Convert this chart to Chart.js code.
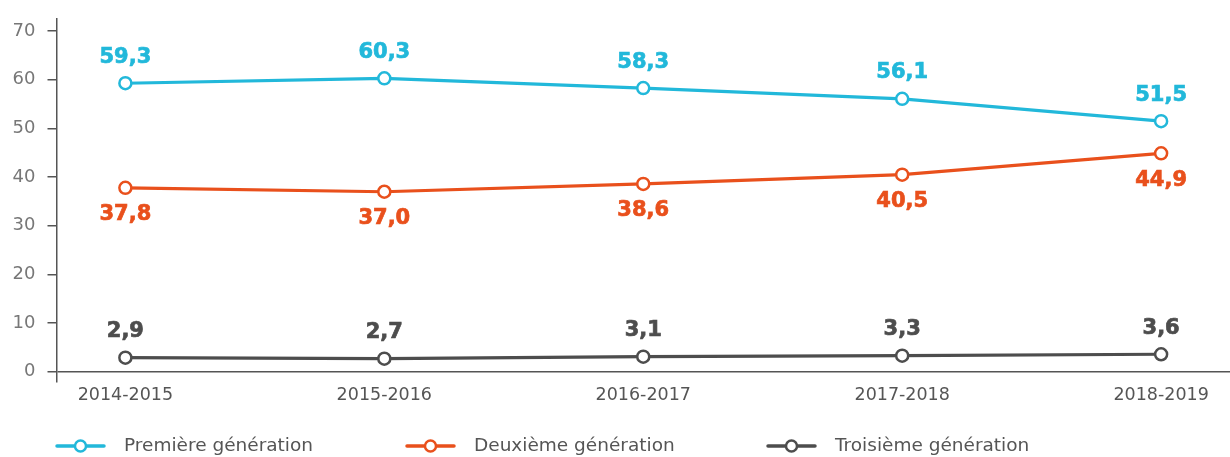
<!DOCTYPE html>
<html>
<head>
<meta charset="utf-8">
<script src="https://cdn.jsdelivr.net/npm/chart.js@4.4.1/dist/chart.umd.min.js"></script>
<style>
  html, body { margin: 0; padding: 0; background: #fff; overflow: hidden; }
  canvas { display: block; }
</style>
</head>
<body>
<canvas id="genChart" width="1230" height="457"></canvas>
<script>
// donnees
const categories = ['2014-2015', '2015-2016', '2016-2017', '2017-2018', '2018-2019'];
const premiere = [59.3, 60.3, 58.3, 56.1, 51.5];
const deuxieme = [37.8, 37.0, 38.6, 40.5, 44.9];
const troisieme = [2.9, 2.7, 3.1, 3.3, 3.6];
const yTicks = [0, 10, 20, 30, 40, 50, 60, 70];
const seriesNames = ['Première génération', 'Deuxième génération', 'Troisième génération'];

const colors = ['#22b8da', '#e9501c', '#4d4d4d'];
const labelSide = ['above', 'below', 'above'];
const FONT = "'DejaVu Sans', sans-serif";

// position (x) du debut de chaque marqueur de legende
const legendX = [57, 407, 768];

const toXY = (arr) => arr.map((v, i) => ({ x: i, y: v }));

// etiquettes de valeur au-dessus / au-dessous des points
const valueLabels = {
  id: 'valueLabels',
  afterDatasetsDraw(chart) {
    const ctx = chart.ctx;
    ctx.save();
    ctx.font = "bold 21px " + FONT;
    ctx.textAlign = 'center';
    ctx.textBaseline = 'middle';
    ctx.lineWidth = 0.7;
    chart.data.datasets.forEach((ds, di) => {
      const meta = chart.getDatasetMeta(di);
      ctx.fillStyle = colors[di];
      ctx.strokeStyle = colors[di];
      meta.data.forEach((pt, i) => {
        const v = ds.data[i].y;
        const dy = labelSide[di] === 'above' ? -26 : 27;
        const txt = v.toFixed(1).replace('.', ',');
        ctx.fillText(txt, pt.x, pt.y + dy);
        ctx.strokeText(txt, pt.x, pt.y + dy);
      });
    });
    ctx.restore();
  }
};

// legende en bas : ligne + cercle puis le nom de la serie
const bottomLegend = {
  id: 'bottomLegend',
  afterDraw(chart) {
    const ctx = chart.ctx;
    const y = 446;
    ctx.save();
    chart.data.datasets.forEach((ds, i) => {
      const x0 = legendX[i];
      ctx.strokeStyle = colors[i];
      ctx.lineWidth = 3.5;
      ctx.lineCap = 'round';
      ctx.beginPath();
      ctx.moveTo(x0, y); ctx.lineTo(x0 + 47, y);
      ctx.stroke();
      ctx.beginPath();
      ctx.arc(x0 + 23.5, y, 5.5, 0, Math.PI * 2);
      ctx.fillStyle = '#fff';
      ctx.fill();
      ctx.lineWidth = 2.5;
      ctx.stroke();
      ctx.fillStyle = '#555';
      ctx.font = "18.5px " + FONT;
      ctx.textAlign = 'left';
      ctx.textBaseline = 'middle';
      ctx.fillText(ds.label, x0 + 67, y);
    });
    ctx.restore();
  }
};

const makeSet = (name, arr, i) => ({
  label: name,
  data: toXY(arr),
  borderColor: colors[i],
  backgroundColor: '#fff',
  borderWidth: 3.2,
  pointRadius: 6,
  pointBorderWidth: 2.5,
  pointBackgroundColor: '#fff',
  pointBorderColor: colors[i],
  tension: 0
});

new Chart(document.getElementById('genChart'), {
  type: 'line',
  data: {
    datasets: [
      makeSet(seriesNames[0], premiere, 0),
      makeSet(seriesNames[1], deuxieme, 1),
      makeSet(seriesNames[2], troisieme, 2)
    ]
  },
  options: {
    responsive: false,
    animation: false,
    layout: {
      autoPadding: false,
      padding: { top: 19, right: 0, bottom: 45, left: 0 }
    },
    plugins: {
      legend: { display: false },
      tooltip: { enabled: false }
    },
    scales: {
      x: {
        type: 'linear',
        min: -0.266,
        max: 4.266,
        afterBuildTicks(axis) {
          axis.ticks = categories.map((c, i) => ({ value: i }));
        },
        afterFit(scale) {
          scale.height = 30;
          scale.paddingLeft = 0;
          scale.paddingRight = 0;
        },
        grid: { display: false, drawTicks: false },
        border: { display: false },
        ticks: {
          padding: 3,
          color: '#555',
          font: { family: FONT, size: 17.5 },
          callback: (v) => categories[v]
        }
      },
      y: {
        min: -2.1,
        max: 72.5,
        afterBuildTicks(axis) {
          axis.ticks = yTicks.map((v) => ({ value: v }));
        },
        afterFit(scale) {
          scale.width = 56.5;
          scale.paddingTop = 0;
          scale.paddingBottom = 0;
        },
        grid: {
          drawOnChartArea: true,
          color: (c) => (c.tick && c.tick.value === 0 ? '#555' : 'rgba(0,0,0,0)'),
          tickColor: '#555',
          tickLength: 9,
          lineWidth: 1.5
        },
        border: { display: true, color: '#555', width: 1.5 },
        ticks: {
          padding: 12,
          color: '#777',
          font: { family: FONT, size: 18 }
        }
      }
    }
  },
  plugins: [valueLabels, bottomLegend]
});
</script>
</body>
</html>
